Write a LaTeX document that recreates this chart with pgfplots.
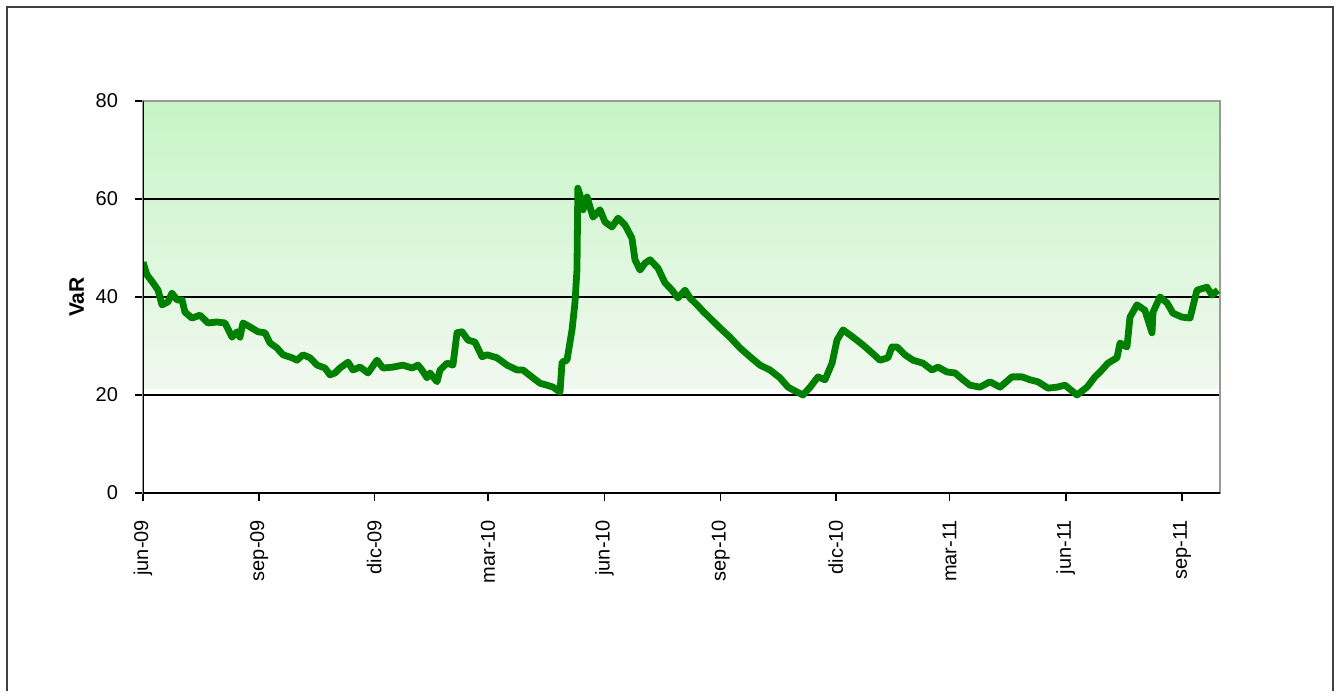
\documentclass[border=0pt]{standalone}
\usepackage{fontspec}
\setmainfont{Liberation Sans}
\usepackage{pgfplots}
\pgfplotsset{compat=1.18}
\definecolor{linegreen}{RGB}{0,128,0}
\definecolor{bgtop}{RGB}{198,245,198}
\definecolor{bgbot}{RGB}{241,248,239}
\definecolor{framegray}{RGB}{64,64,64}
\begin{document}
\fontsize{10}{12}\selectfont
\begin{tikzpicture}
\path (0,0) rectangle (668pt,345.5pt);
\draw[framegray, line width=1pt] (3.5pt,0pt) -- (3.5pt,342pt) -- (666.5pt,342pt) -- (666.5pt,0pt);
\begin{axis}[
  set layers,
  at={(71.5pt,99pt)}, anchor=south west,
  width=538.5pt, height=196pt, scale only axis,
  xmin=0, xmax=852, ymin=0, ymax=80,
  xtick={0,92,183,273,365,457,548,638,730,822},
  xticklabels={jun-09,sep-09,dic-09,mar-10,jun-10,sep-10,dic-10,mar-11,jun-11,sep-11},
  ytick={0,20,40,60,80},
  xtick pos=lower, ytick pos=left,
  tick align=outside, major tick length=4pt,
  tick style={black, line width=0.8pt},
  xticklabel style={rotate=90, anchor=east, font=\fontsize{10}{12}\selectfont},
  yticklabel style={font=\fontsize{10}{12}\selectfont},
  xticklabel shift=6pt, yticklabel shift=5pt,
  /pgf/number format/assume math mode=true,
  ymajorgrids, grid style={black, line width=0.8pt},
  axis line style={gray!80, line width=0.8pt},
  ylabel={\textbf{VaR}}, ylabel style={font=\fontsize{10.5}{12}\selectfont},
  ylabel shift=-1pt,
  clip=true,
]
\addplot[forget plot, draw=none, top color=bgtop, bottom color=bgbot, on layer=axis background]
  coordinates {(0,21.4) (852,21.4) (852,80) (0,80)} -- cycle;
\addplot[linegreen, line width=3.4pt, line join=round] coordinates {
(0,47.1) (3.2,44.5) (7.9,42.9) (11.9,41.4) (15.0,38.4) (19.8,39.0) (22.9,40.8) (26.9,39.4)
(30.9,39.4) (33.2,36.9) (38.8,35.7) (45.1,36.3) (51.4,34.7) (58.5,34.9) (64.9,34.7) (70.4,31.8)
(74.4,32.9) (76.7,31.8) (79.1,34.7) (84.6,33.9) (91.0,32.9) (96.5,32.7) (100.5,30.6) (106.0,29.6)
(110.8,28.2) (117.9,27.6) (121.8,27.1) (126.6,28.2) (132.1,27.6) (137.7,26.1) (144.0,25.5) (147.9,24.1)
(151.9,24.5) (155.8,25.5) (162.2,26.7) (166.1,25.1) (171.7,25.7) (178.0,24.5) (185.1,27.1) (189.9,25.5)
(197.8,25.7) (205.7,26.1) (212.8,25.5) (217.6,26.1) (220.7,25.1) (224.7,23.5) (227.0,24.5) (232.6,22.7)
(235.0,25.1) (240.5,26.5) (245.2,26.1) (248.4,32.7) (252.4,32.9) (257.1,31.2) (262.6,30.8) (268.2,27.8)
(272.1,28.2) (280.0,27.6) (288.0,26.1) (295.9,25.1) (300.6,25.1) (308.5,23.5) (314.1,22.4) (319.6,22.0)
(324.4,21.6) (329.9,20.6) (331.5,26.7) (335.4,27.1) (339.4,33.3) (341.7,38.8) (343.3,45.5) (344.0,62.2)
(345.7,60.8) (348.1,57.8) (351.3,60.4) (356.0,56.3) (361.5,57.8) (365.5,55.3) (371.0,54.3) (375.8,56.1)
(381.3,54.7) (386.8,52.0) (389.2,47.6) (393.2,45.5) (397.1,46.9) (401.1,47.6) (407.4,45.9) (412.9,42.9)
(418.5,41.4) (423.2,39.8) (428.8,41.4) (432.7,39.8) (438.3,38.4) (443.0,37.1) (448.5,35.7) (456.4,33.7)
(464.3,31.8) (472.3,29.6) (480.2,27.8) (488.1,26.1) (496.0,25.1) (503.9,23.5) (510.3,21.6) (517.4,20.6)
(522.1,20.0) (527.7,21.6) (534.0,23.7) (539.5,23.1) (545.1,26.5) (549.0,31.2) (553.8,33.3) (561.7,31.8)
(569.6,30.2) (576.7,28.6) (583.0,27.1) (589.3,27.6) (592.5,29.8) (596.5,29.8) (602.8,28.2) (609.1,27.1)
(617.0,26.5) (624.2,25.1) (628.9,25.7) (636.0,24.7) (642.4,24.5) (648.7,23.1) (654.2,22.0) (662.1,21.6)
(670.0,22.7) (678.0,21.6) (687.4,23.7) (695.4,23.7) (701.7,23.1) (708.0,22.7) (715.9,21.4) (723.0,21.6)
(729.4,22.0) (738.9,20.0) (746.8,21.6) (753.1,23.7) (757.1,24.7) (763.4,26.5) (770.5,27.6) (772.9,30.6)
(778.4,29.8) (780.8,35.9) (786.3,38.4) (792.6,37.3) (798.2,32.7) (799.0,36.9) (804.5,40.0) (810.1,38.8)
(814.8,36.7) (821.9,35.9) (828.3,35.7) (833.8,41.4) (841.7,42.0) (845.7,40.4) (850.4,41.4)
};
\draw[black, line width=0.8pt] (rel axis cs:0,1) -- (rel axis cs:0,0) -- (rel axis cs:1,0);
\end{axis}
\end{tikzpicture}
\end{document}
